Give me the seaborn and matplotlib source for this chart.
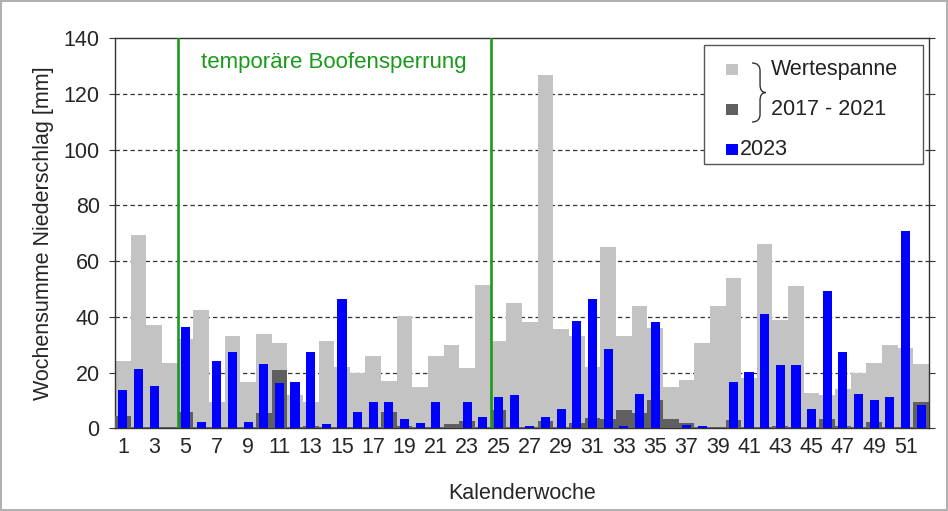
import numpy as np
import pandas as pd
import seaborn as sns
import matplotlib.pyplot as plt
from matplotlib.patches import Rectangle, PathPatch
from matplotlib.path import Path

# Kalenderwochen 1..52
weeks = list(range(1, 53))

# Maximum der Wertespanne 2017-2021 [mm]
range_max = [24, 69.5, 37, 23.5, 32, 42.5, 9.5, 33, 16.5, 34,
             30.5, 12, 9.5, 31.5, 22, 20, 26, 17, 40.5, 15,
             26, 30, 21.5, 51.5, 31.5, 45, 38, 127, 35.5, 33,
             22, 65, 33, 44, 36, 15, 17.5, 30.5, 44, 54,
             18, 66, 39, 51, 12.5, 12, 14, 20, 23.5, 30,
             29, 23]

# Minimum der Wertespanne 2017-2021 [mm]
range_min = [4.5, 0.6, 0.4, 0.3, 6, 0.5, 0.6, 0.3, 0.3, 5.5,
             20.8, 0.5, 0.8, 0.5, 0.4, 0.5, 0.6, 6, 0.8, 0.5,
             0.4, 1.5, 2.7, 0.5, 6.5, 0.5, 0.3, 2.8, 0.5, 1.8,
             3.7, 3.2, 6.6, 5.5, 10, 3.3, 1.8, 0.5, 0.3, 2.9,
             0.5, 0.5, 0.8, 0.5, 0.5, 3.5, 1, 0.5, 2.2, 0.5,
             0.5, 9.5]

# Niederschlag 2023 [mm]
values_2023 = [13.8, 21.2, 15.1, 0, 36.3, 2.3, 24, 27.3, 2.3, 23.2,
               16.2, 16.5, 27.3, 1.6, 46.4, 5.8, 9.4, 9.6, 3.5, 1.8,
               9.6, 0, 9.3, 3.9, 11.2, 11.9, 0.8, 4.2, 6.9, 38.6,
               46.4, 28.6, 0.8, 12.4, 38.3, 0, 1.2, 1, 0, 16.6,
               20.2, 41, 22.9, 22.7, 6.9, 49.2, 27.5, 12.4, 10, 11.2,
               70.7, 8.2]

y_ticks = [0, 20, 40, 60, 80, 100, 120, 140]
x_labels = [str(w) for w in weeks if w % 2 == 1]

df = pd.DataFrame({"woche": weeks, "max": range_max,
                   "min": range_min, "y2023": values_2023})

sns.set_style("white")
plt.rcParams['font.family'] = ['Liberation Sans', 'DejaVu Sans']

fig = plt.figure(figsize=(9.48, 5.11), dpi=100)
fig.patch.set_edgecolor('#b0b0b0')
fig.patch.set_linewidth(1.5)
ax = fig.add_axes([0.1213, 0.1618, 0.8587, 0.7632])

light = '#c3c3c3'
dark = '#5f5f5f'
green = '#1a9a1a'
fs = 15.5

sns.barplot(data=df, x="woche", y="max", native_scale=True, width=1.0,
            color=light, saturation=1, errorbar=None, linewidth=0, ax=ax, zorder=2)
sns.barplot(data=df, x="woche", y="min", native_scale=True, width=1.0,
            color=dark, saturation=1, errorbar=None, linewidth=0, ax=ax, zorder=3)
sns.barplot(data=df, x="woche", y="y2023", native_scale=True, width=0.58,
            color='#0000ff', saturation=1, errorbar=None, linewidth=0, ax=ax, zorder=4)

# Sperrzeitraum
for xv in (4.5, 24.5):
    ax.axvline(xv, color=green, lw=1.9, zorder=5)
ax.text(14.5, 131.5, "temporäre Boofensperrung", color=green, fontsize=16,
        ha='center', va='center', zorder=6)

ax.set_xlim(0.5, 52.5)
ax.set_ylim(0, 140)
ax.set_yticks(y_ticks)
ax.set_yticklabels([str(v) for v in y_ticks], fontsize=fs)
ax.set_xticks([w for w in weeks if w % 2 == 1])
ax.set_xticklabels(x_labels, fontsize=fs)
ax.set_xticks(np.arange(0.5, 53, 1), minor=True)
ax.tick_params(axis='x', which='major', length=0, pad=6)
ax.tick_params(axis='x', which='minor', direction='inout', length=6, width=0.8, color='#333333')
ax.tick_params(axis='y', which='major', direction='out', length=4, width=0.8,
               color='#333333', left=True, right=True, pad=7)

for y in y_ticks[1:-1]:
    ax.axhline(y, color='#333333', lw=0.9, ls=(0, (3.5, 2.5)), zorder=1)

for sp in ax.spines.values():
    sp.set_color('#333333')
    sp.set_linewidth(1.0)

ax.set_xlabel("Kalenderwoche", fontsize=fs, labelpad=18)
ax.set_ylabel("Wochensumme Niederschlag [mm]", fontsize=fs, labelpad=7)

# Legende (manuell mit Klammer)
ax.add_patch(Rectangle((0.724, 0.677), 0.268, 0.305, transform=ax.transAxes,
                       facecolor='white', edgecolor='#555555', lw=1.0, zorder=7))
ax.add_patch(Rectangle((0.751, 0.905), 0.014, 0.028, transform=ax.transAxes,
                       facecolor=light, edgecolor='none', zorder=8))
ax.add_patch(Rectangle((0.751, 0.803), 0.014, 0.028, transform=ax.transAxes,
                       facecolor=dark, edgecolor='none', zorder=8))
ax.add_patch(Rectangle((0.751, 0.700), 0.014, 0.028, transform=ax.transAxes,
                       facecolor='#0000ff', edgecolor='none', zorder=8))

x0, x1, x2 = 0.7826, 0.7924, 0.7995
yt, ym, yb, r = 0.9367, 0.861, 0.7854, 0.02
brace = Path([(x0, yt), (x1, yt), (x1, yt - r),
              (x1, ym + r), (x1, ym), (x2, ym),
              (x1, ym), (x1, ym - r),
              (x1, yb + r), (x1, yb), (x0, yb)],
             [Path.MOVETO, Path.CURVE3, Path.CURVE3,
              Path.LINETO, Path.CURVE3, Path.CURVE3,
              Path.CURVE3, Path.CURVE3,
              Path.LINETO, Path.CURVE3, Path.CURVE3])
ax.add_patch(PathPatch(brace, transform=ax.transAxes, facecolor='none',
                       edgecolor='#333333', lw=1.0, zorder=8))

ax.text(0.806, 0.919, "Wertespanne", transform=ax.transAxes, fontsize=fs,
        ha='left', va='center', color='#222222', zorder=8)
ax.text(0.806, 0.817, "2017 - 2021", transform=ax.transAxes, fontsize=fs,
        ha='left', va='center', color='#222222', zorder=8)
ax.text(0.768, 0.714, "2023", transform=ax.transAxes, fontsize=fs,
        ha='left', va='center', color='#222222', zorder=8)

fig.savefig("out.png", dpi=100)
